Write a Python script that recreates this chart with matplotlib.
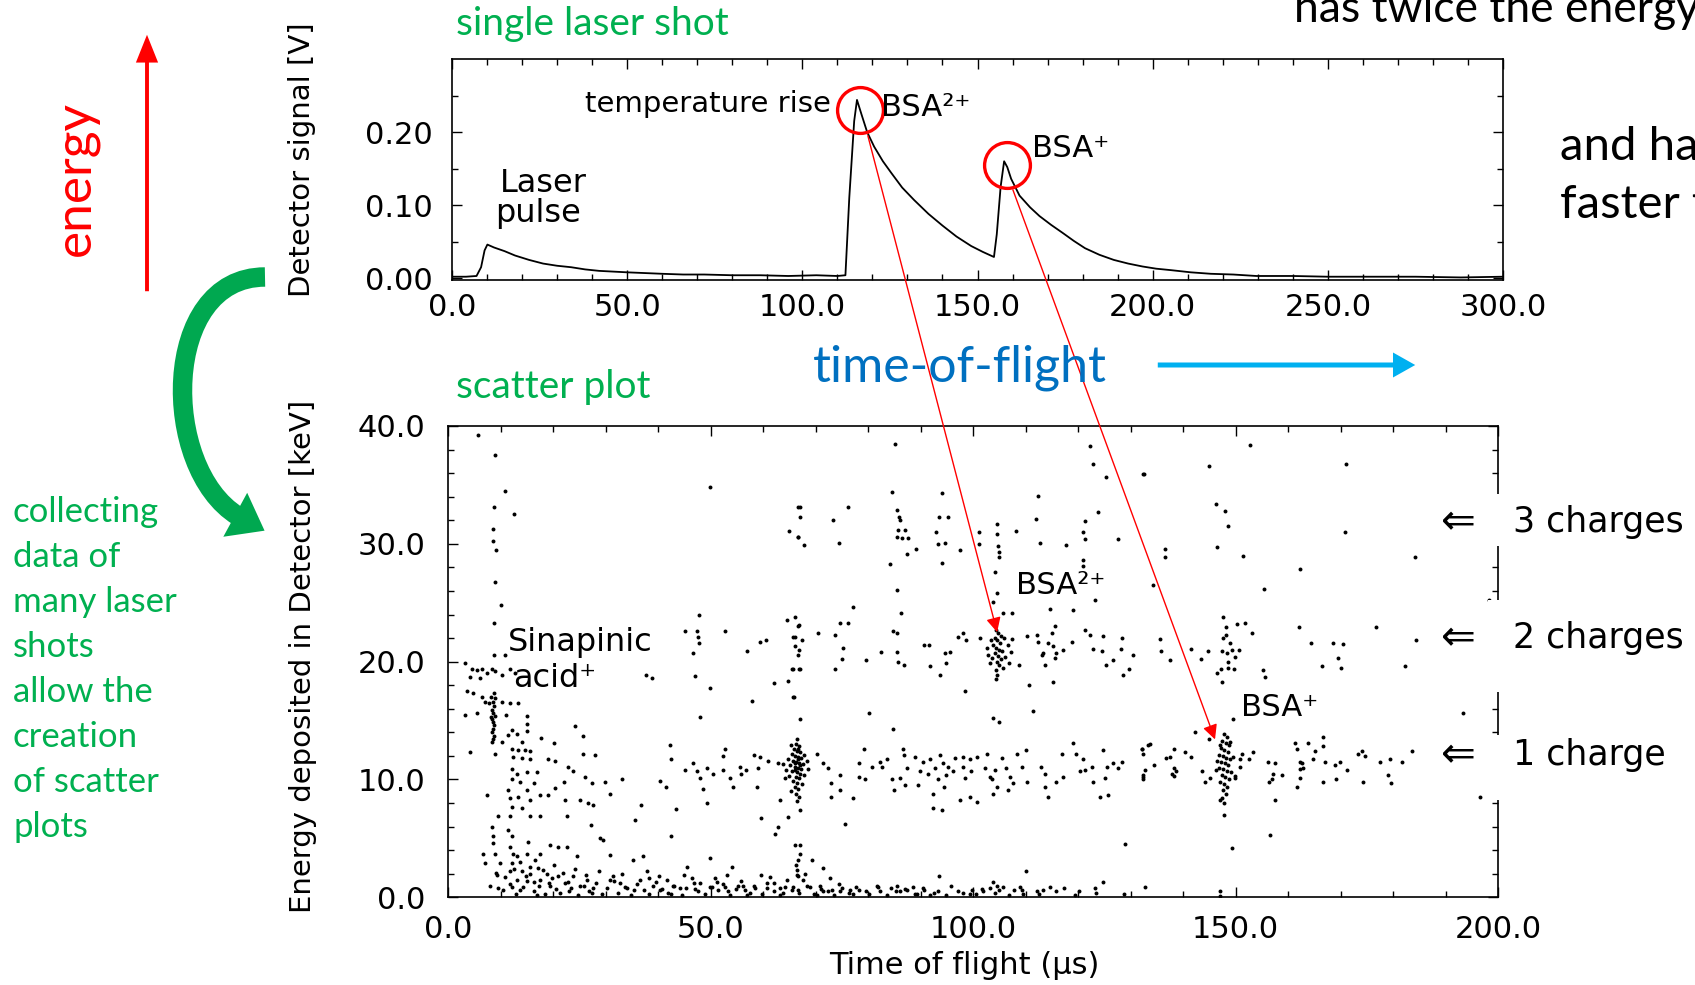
import numpy as np
import matplotlib
matplotlib.use("Agg")
import matplotlib.pyplot as plt
from matplotlib.patches import FancyArrowPatch, ConnectionPatch, Rectangle, ArrowStyle, PathPatch
from matplotlib.path import Path
from matplotlib.ticker import MultipleLocator, FixedLocator, FormatStrFormatter

W, H = 1695, 985

# ---- single laser shot trace (time in us, signal in V)
trace = [(0, 0.002), (4, 0.002), (7, 0.003), (8.3, 0.015), (9.3, 0.038), (10.1, 0.046),
         (12, 0.042), (15, 0.037), (18, 0.031), (22, 0.025), (26, 0.020), (30, 0.017),
         (34, 0.015), (38, 0.012), (42, 0.010), (46, 0.009), (50, 0.008), (55, 0.007),
         (60, 0.006), (66, 0.005), (72, 0.005), (80, 0.004), (88, 0.004), (96, 0.003),
         (104, 0.004), (110, 0.003), (112.3, 0.004), (113.4, 0.11), (114.8, 0.215),
         (115.6, 0.244), (116.9, 0.224), (118.5, 0.200), (120.5, 0.180), (123, 0.160),
         (125.4, 0.144), (128.5, 0.124), (131.9, 0.107), (136, 0.088), (140, 0.072),
         (144, 0.057), (148.2, 0.044), (151.5, 0.036), (154.7, 0.029), (155.5, 0.06),
         (156.6, 0.125), (157.6, 0.160), (158.5, 0.152), (159.6, 0.136), (162, 0.113),
         (165, 0.097), (167.7, 0.085), (171, 0.073), (174.3, 0.062), (177.5, 0.051),
         (180.7, 0.041), (184.8, 0.032), (188.9, 0.025), (193, 0.020), (197.1, 0.016),
         (201, 0.013), (205.2, 0.011), (210.9, 0.008), (216.6, 0.006), (223, 0.005),
         (229.6, 0.003), (240, 0.003), (250, 0.002), (262, 0.002), (275, 0.002),
         (288, 0.001), (300, 0.002)]
peak_circles = [(116.4, 0.230), (158.4, 0.155)]

# ---- scatter plot (time of flight in us, energy in keV)
high_pts = [(5.8, 39.2), (9.0, 37.5), (10.9, 34.5), (8.8, 33.1), (12.6, 32.5), (8.5, 31.3),
            (8.6, 30.2), (9.1, 29.5), (9.0, 26.8), (10.1, 24.8), (8.8, 23.3), (8.8, 20.6),
            (10.9, 20.6), (49.9, 34.8), (66.7, 33.1), (65.0, 31.1), (66.7, 30.6),
            (85.1, 38.5), (84.5, 34.4), (85.6, 32.9), (85.9, 32.3), (86.1, 32.0), (85.8, 31.2),
            (87.1, 31.2), (85.6, 30.6), (86.4, 30.5), (87.7, 30.5), (87.4, 29.1), (89.1, 29.6),
            (84.2, 28.3), (67.0, 33.1), (67.0, 32.3), (66.7, 30.6), (67.8, 29.9), (73.4, 32.0),
            (76.1, 33.1), (74.5, 30.1), (94.0, 34.3), (93.6, 32.3), (95.3, 32.3), (93.0, 31.0),
            (93.4, 30.0), (94.7, 30.1), (94.0, 28.4), (97.5, 29.5), (101.1, 31.0), (101.1, 30.0),
            (104.5, 31.7), (104.6, 30.8), (104.8, 29.8), (105.0, 29.3), (105.0, 28.9),
            (104.1, 27.6), (104.5, 25.8), (103.9, 25.1), (105.8, 24.1), (107.4, 24.1),
            (112.3, 34.1), (112.0, 32.1), (112.8, 30.1), (108.2, 31.1), (117.8, 29.9),
            (122.2, 38.3), (122.9, 36.8), (125.4, 35.7), (123.9, 32.7), (121.3, 31.9),
            (121.0, 31.0), (121.3, 30.4), (121.0, 28.6), (121.0, 28.1), (127.7, 30.4),
            (132.3, 35.9), (85.6, 26.1), (86.3, 24.1), (77.2, 24.6), (123.2, 25.2),
            (152.8, 38.4), (145.0, 36.6), (132.5, 35.9), (171.1, 36.8), (146.3, 33.4),
            (148.0, 32.8), (148.5, 31.5), (170.8, 31.0), (136.6, 29.6), (136.6, 28.9),
            (146.4, 29.7), (151.5, 29.0), (184.2, 28.9), (162.3, 27.9), (134.2, 26.5),
            (155.5, 26.2), (198.2, 25.2)]

band2_pts = [(47.9, 24.0), (45.1, 22.6), (47.4, 22.6), (47.7, 22.1), (47.9, 21.6), (46.7, 20.7),
             (52.8, 22.6), (56.9, 20.9), (59.4, 21.7), (60.6, 21.8), (47.0, 18.8), (37.8, 18.9),
             (38.9, 18.6), (49.9, 17.8), (62.0, 18.2), (57.9, 16.7), (48.0, 15.3), (64.5, 23.5),
             (65.8, 22.1), (66.7, 23.0), (66.1, 21.3), (65.5, 19.4), (66.9, 19.4), (64.8, 18.4),
             (65.8, 17.0), (66.1, 23.8), (66.9, 23.1), (66.1, 22.1), (67.4, 21.8), (66.9, 21.0),
             (66.6, 20.6), (65.8, 19.4), (67.0, 19.4), (70.4, 22.4), (73.7, 22.3), (74.6, 23.3),
             (76.1, 23.3), (75.3, 21.2), (75.0, 20.2), (73.7, 19.4), (79.6, 20.1), (82.4, 20.8),
             (84.8, 22.6), (85.5, 22.4), (85.6, 20.8), (85.8, 20.0), (86.9, 19.7), (90.6, 21.4),
             (91.6, 21.4), (91.9, 19.6), (93.8, 18.9), (94.8, 19.9), (95.6, 20.8), (97.2, 22.1),
             (98.1, 22.4), (98.7, 21.8), (101.4, 22.0), (110.2, 22.2), (112.4, 21.7),
             (113.4, 20.7), (114.3, 21.6), (115.0, 22.4), (115.6, 23.0), (115.3, 21.3),
             (115.9, 20.7), (115.6, 20.3), (117.2, 21.0), (118.8, 21.7), (114.7, 24.5),
             (119.1, 24.4), (112.1, 22.3), (113.7, 19.7), (113.1, 20.6), (121.3, 22.7),
             (122.3, 22.3), (122.9, 21.1), (124.5, 20.9), (124.8, 22.2), (126.7, 20.1),
             (128.3, 22.0), (128.2, 21.1), (128.6, 18.9), (129.8, 19.4), (130.5, 20.6),
             (125.3, 19.7), (108.8, 19.7), (94.7, 20.7), (65.9, 17.0), (67.0, 15.1),
             (80.2, 15.6), (84.8, 14.3), (98.5, 17.5), (103.9, 15.2), (105.0, 14.9),
             (111.5, 15.8), (110.7, 18.0), (115.3, 18.3), (147.6, 23.8), (148.2, 22.9),
             (150.2, 23.2), (151.8, 23.3), (153.1, 22.4), (147.6, 22.0), (148.2, 22.3),
             (149.0, 21.6), (147.4, 20.9), (148.3, 20.7), (149.3, 21.0), (150.7, 21.0),
             (149.9, 20.4), (148.5, 20.0), (147.3, 19.4), (148.6, 19.5), (149.8, 19.4),
             (146.4, 19.0), (147.4, 18.3), (135.6, 21.9), (135.8, 20.9), (137.6, 20.1),
             (141.6, 21.1), (143.4, 20.2), (144.7, 20.9), (155.2, 19.3), (155.6, 18.7),
             (162.0, 22.9), (164.3, 21.6), (168.6, 21.6), (170.5, 21.5), (169.6, 20.3),
             (166.4, 19.6), (170.1, 19.5), (176.8, 22.9), (182.3, 19.6), (184.3, 21.8),
             (193.3, 15.6), (149.6, 15.1)]

sinapinic_pts = [(3.2, 19.9), (4.5, 19.4), (5.5, 19.3), (6.4, 19.4), (7.4, 19.0), (4.2, 18.7),
                 (6.1, 18.6), (8.3, 19.4), (8.9, 19.2), (10.2, 18.9), (11.8, 19.4), (12.8, 19.0),
                 (3.6, 17.5), (4.8, 17.3), (6.4, 17.0), (7.0, 16.6), (7.8, 16.5), (10.2, 16.6),
                 (11.8, 16.5), (13.4, 16.5), (3.2, 15.5), (5.5, 15.6), (11.0, 15.5), (15.0, 15.4),
                 (15.0, 14.7), (12.1, 14.2), (13.1, 13.9), (8.3, 13.2), (10.2, 13.2), (11.5, 13.8),
                 (14.0, 13.2), (15.0, 14.1), (24.2, 14.5), (25.7, 13.7), (8.9, 12.2), (4.2, 12.3),
                 (12.1, 12.6), (13.4, 12.5), (14.7, 12.5), (15.6, 12.4), (17.8, 13.5), (20.1, 13.1),
                 (12.4, 11.9), (14.0, 11.8), (15.6, 11.7), (19.1, 11.7), (20.4, 11.6), (25.8, 12.2),
                 (28.0, 12.1), (22.9, 11.1), (23.9, 10.7), (26.1, 10.2), (12.1, 10.9), (13.1, 10.5),
                 (15.0, 10.6), (16.9, 10.6), (12.1, 10.0), (13.7, 9.8), (16.3, 9.7), (22.0, 9.8),
                 (7.4, 8.7), (11.5, 9.1), (11.8, 8.4), (13.4, 8.5), (15.0, 9.1), (15.6, 8.3),
                 (17.5, 8.7), (19.0, 8.7), (20.4, 9.3), (22.3, 8.3), (25.1, 8.3), (26.7, 8.0),
                 (27.7, 7.8), (29.9, 9.8), (33.1, 10.0), (27.4, 9.7), (30.9, 8.8), (12.1, 7.7),
                 (14.0, 7.6), (15.6, 6.9), (17.5, 6.9), (22.6, 6.9), (9.6, 6.9), (11.8, 6.9),
                 (27.2, 6.1), (35.6, 6.6), (36.7, 7.8),
                 (8.2, 17.0), (8.5, 16.6), (8.7, 16.2), (8.4, 15.9), (8.6, 15.6), (8.9, 15.4),
                 (8.3, 15.1), (8.6, 14.9), (8.8, 14.6), (8.5, 14.3), (8.4, 14.0), (8.7, 13.7),
                 (9.0, 16.9), (8.2, 15.3), (8.6, 13.4), (8.8, 17.3)]

band1_pts = [(40.4, 9.9), (41.5, 9.4), (42.2, 12.9), (42.4, 11.7), (43.4, 7.5), (42.5, 5.2),
             (46.7, 11.4), (45.1, 10.8), (47.4, 10.7), (48.0, 10.1), (49.3, 11.0), (48.6, 9.2),
             (49.3, 8.0), (52.7, 12.6), (52.4, 12.0), (50.5, 10.5), (52.3, 10.8), (53.7, 10.1),
             (55.6, 11.1), (54.3, 9.4), (58.2, 12.1), (59.4, 11.9), (61.0, 11.6), (56.8, 10.8),
             (55.9, 10.5), (59.1, 11.0), (58.8, 9.4), (62.9, 11.4), (63.2, 8.3), (59.7, 6.7),
             (64.8, 6.8), (62.9, 6.0), (62.3, 5.4), (66.1, 4.4),
             (70.2, 12.2), (71.5, 11.4), (72.4, 11.0), (73.0, 9.7), (74.7, 10.4), (74.6, 9.1),
             (73.0, 8.5), (77.2, 8.4), (78.2, 11.4), (78.2, 10.2), (79.4, 10.0), (79.3, 12.6),
             (80.7, 11.1), (82.3, 11.5), (83.6, 11.7), (82.6, 11.1), (84.5, 10.0), (84.9, 9.1),
             (86.7, 12.6), (86.8, 12.1), (87.4, 11.0), (86.1, 10.1), (87.0, 9.5), (89.0, 11.9),
             (89.9, 10.7), (90.5, 11.5), (91.5, 10.5), (89.6, 9.5), (91.9, 11.7), (92.8, 11.0),
             (93.7, 12.1), (94.3, 11.4), (95.2, 11.1), (94.9, 10.4), (96.2, 10.7), (93.4, 10.0),
             (94.4, 9.4), (92.4, 8.8), (96.5, 11.8), (98.1, 11.9), (98.1, 11.1), (99.4, 11.7),
             (99.7, 10.7), (100.7, 11.9), (98.5, 10.1), (97.5, 8.3), (99.4, 8.5), (100.7, 8.1),
             (102.3, 11.0), (102.6, 12.2), (103.2, 10.2), (103.6, 10.0), (104.2, 10.8),
             (104.5, 9.4), (103.8, 8.8), (105.5, 11.8), (106.3, 11.0), (107.0, 10.2),
             (107.7, 9.7), (108.3, 12.2), (109.3, 11.1), (110.0, 12.5), (110.3, 9.8),
             (106.7, 9.1), (113.0, 11.1), (113.7, 10.5), (113.7, 9.4), (114.3, 8.5),
             (115.9, 9.8), (116.9, 12.2), (117.2, 10.2), (119.1, 13.1), (119.7, 12.2),
             (121.0, 11.7), (120.4, 10.7), (121.3, 10.8), (122.6, 11.1), (122.9, 9.8),
             (124.8, 12.5), (125.5, 11.1), (126.7, 11.4), (127.7, 11.0), (128.3, 11.5),
             (125.1, 10.1), (124.2, 8.5), (125.8, 8.7), (132.1, 12.6), (132.4, 10.2),
             (133.4, 12.9), (132.7, 10.8), (92.4, 7.6), (94.1, 7.4), (75.6, 6.2), (67.0, 7.4),
             (128.9, 4.5),
             (142.2, 14.0), (145.0, 13.4), (133.7, 13.0), (132.1, 12.6), (132.4, 12.2),
             (138.2, 12.6), (140.4, 12.3), (136.8, 11.8), (137.6, 11.9), (141.5, 11.9),
             (134.4, 11.2), (138.2, 11.0), (138.7, 10.7), (137.9, 10.5), (138.2, 10.3),
             (132.4, 10.4), (132.4, 10.0), (143.6, 10.7), (144.2, 9.8), (145.2, 10.1),
             (151.2, 12.2), (150.9, 11.7), (153.4, 12.3), (152.6, 11.7), (150.9, 11.1),
             (149.9, 10.1), (156.2, 11.5), (157.5, 11.4), (157.2, 10.5), (158.8, 10.4),
             (156.9, 10.0), (156.4, 9.8), (157.5, 8.3), (161.4, 13.1), (161.7, 12.6),
             (163.9, 13.1), (166.6, 13.6), (165.2, 12.4), (166.7, 12.8), (162.3, 11.5),
             (162.6, 11.4), (162.9, 11.0), (162.3, 10.9), (164.7, 11.7), (167.1, 11.5),
             (168.9, 11.2), (169.9, 11.5), (171.2, 10.8), (162.2, 10.1), (161.7, 9.4),
             (166.6, 9.8), (169.1, 10.0), (173.4, 12.2), (174.0, 12.4), (174.7, 12.0),
             (177.5, 11.5), (179.4, 11.7), (181.7, 11.5), (183.6, 12.4), (174.2, 9.8),
             (179.1, 10.4), (179.7, 9.7), (196.6, 8.5), (147.9, 7.0), (156.6, 5.3),
             (149.3, 4.2), (147.0, 8.3)]

bsa1_66 = [(66.5, 13.4), (66.2, 13.0), (66.8, 12.8), (65.9, 12.6), (66.4, 12.4), (67.1, 12.3),
           (65.5, 12.2), (66.0, 12.0), (66.6, 11.9), (67.3, 11.8), (64.8, 11.7), (65.7, 11.6),
           (66.3, 11.5), (66.9, 11.4), (67.6, 11.3), (65.2, 11.2), (66.1, 11.1), (66.7, 11.0),
           (67.2, 10.9), (64.4, 10.8), (65.6, 10.7), (66.4, 10.6), (67.0, 10.5), (67.9, 10.4),
           (65.0, 10.3), (66.2, 10.2), (66.8, 10.1), (65.8, 9.9), (66.5, 9.7), (67.4, 9.6),
           (66.0, 9.4), (66.7, 9.2), (65.4, 9.0), (66.3, 8.8), (66.9, 8.5), (66.4, 8.2),
           (68.3, 11.6), (68.6, 10.9), (63.9, 11.3), (64.2, 10.1), (67.8, 12.1), (65.3, 12.9),
           (66.6, 12.6), (66.1, 10.8), (66.6, 11.7), (66.0, 11.4), (67.0, 11.2)]

bsa2_105 = [(104.3, 22.7), (104.8, 22.4), (105.3, 22.2), (104.1, 22.0), (104.6, 21.8),
            (105.1, 21.6), (103.8, 21.4), (104.4, 21.2), (105.0, 21.0), (105.6, 20.9),
            (104.2, 20.7), (104.8, 20.5), (103.6, 20.3), (105.3, 20.2), (104.5, 20.0),
            (106.1, 20.4), (103.2, 19.9), (104.9, 19.7), (105.8, 19.5), (104.3, 19.3),
            (104.6, 18.9), (104.4, 18.5), (106.6, 21.4), (107.2, 20.8), (102.8, 20.6),
            (106.8, 19.9), (103.4, 21.8), (105.9, 22.0), (107.5, 21.9), (102.6, 21.2)]

bsa1_148 = [(147.9, 13.9), (148.3, 13.6), (147.5, 13.3), (148.1, 13.1), (148.7, 12.9),
            (147.2, 12.7), (147.9, 12.5), (148.5, 12.3), (146.8, 12.1), (147.6, 12.0),
            (148.2, 11.8), (148.9, 11.7), (147.3, 11.5), (148.0, 11.4), (148.6, 11.2),
            (146.9, 11.0), (147.7, 10.9), (148.3, 10.7), (149.2, 10.6), (147.4, 10.4),
            (148.0, 10.2), (148.7, 10.0), (147.1, 9.8), (147.8, 9.6), (148.4, 9.4),
            (147.6, 9.1), (148.1, 8.8), (147.5, 8.4), (147.8, 8.0), (146.5, 11.6),
            (149.5, 11.9), (146.2, 10.8), (149.9, 10.3), (147.0, 12.9), (148.9, 13.2)]

low_pts = [(8.3, 6.0), (8.6, 5.2), (6.7, 3.7), (7.0, 2.9), (8.6, 4.6), (8.9, 3.7), (9.9, 2.9),
           (9.3, 1.9), (8.0, 1.0), (9.6, 0.8), (11.5, 5.7), (12.1, 5.2), (11.8, 4.3), (12.4, 3.7),
           (13.1, 3.5), (12.1, 2.9), (13.7, 3.0), (11.8, 2.2), (14.0, 2.2), (13.1, 1.5),
           (12.1, 0.9), (13.7, 0.6), (15.3, 4.7), (15.0, 3.7), (16.6, 3.2), (15.6, 2.6),
           (17.5, 3.7), (17.2, 2.5), (19.4, 4.4), (20.1, 2.7), (18.8, 2.0), (15.6, 2.0),
           (16.3, 1.3), (17.5, 1.5), (19.4, 1.0), (21.0, 1.8), (22.3, 1.2), (23.9, 1.8),
           (24.5, 3.5), (21.0, 4.3), (22.6, 4.3), (25.1, 1.0), (26.4, 1.5), (27.7, 0.8),
           (29.0, 5.0), (29.6, 4.9), (30.9, 3.6), (31.5, 1.8), (32.8, 1.2), (34.0, 0.8),
           (35.3, 3.2), (37.2, 3.5), (36.6, 1.5), (38.2, 1.6), (39.1, 1.0), (40.4, 0.6),
           (41.7, 1.5), (42.9, 1.0), (44.2, 0.8), (45.5, 2.6), (46.4, 1.6), (48.0, 1.2),
           (49.9, 3.3), (49.9, 0.9), (51.2, 1.3), (52.8, 0.9), (53.1, 1.9), (54.0, 2.6),
           (55.3, 1.0), (56.6, 0.6), (58.2, 1.0), (59.7, 1.9), (60.7, 0.8), (62.0, 1.2),
           (63.2, 0.8), (64.5, 1.5), (65.8, 0.9), (66.7, 1.8), (66.7, 3.2), (66.4, 2.3),
           (67.0, 4.4), (67.0, 3.7), (69.3, 3.2), (66.3, 2.7), (71.4, 2.5), (72.8, 1.6),
           (66.4, 1.9), (67.7, 1.5), (69.0, 0.9), (66.7, 0.6), (70.9, 1.0), (71.5, 0.5),
           (73.1, 0.6), (74.7, 0.5), (76.6, 0.6), (77.2, 0.3), (79.7, 0.5), (81.7, 1.0),
           (82.3, 0.5), (85.5, 1.0), (86.1, 0.5), (87.4, 0.6), (88.6, 0.9), (89.3, 0.3),
           (90.5, 0.8), (93.6, 1.8), (93.4, 0.5), (98.1, 0.4), (99.9, 0.6), (101.9, 0.5),
           (103.9, 1.3), (104.5, 1.0), (105.0, 0.6), (103.2, 0.8), (105.8, 0.9), (108.9, 0.9),
           (109.6, 0.3), (110.1, 2.2), (112.1, 0.5), (113.4, 0.6), (114.7, 0.9), (120.1, 0.5),
           (123.2, 0.8), (124.8, 1.3), (132.8, 0.9), (147.0, 0.5), (147.1, 0.1)]

floor_pts = [(10.5, 0.6), (11.8, 1.1), (13.0, 0.3), (14.2, 0.9), (15.1, 1.4), (16.4, 0.5),
             (17.3, 1.0), (18.5, 0.3), (19.2, 1.2), (20.6, 0.7), (21.4, 0.4), (22.8, 1.3),
             (23.5, 0.8), (24.7, 0.2), (25.9, 1.0), (26.8, 0.5), (28.1, 1.2), (29.3, 0.3),
             (30.2, 0.8), (31.6, 1.4), (32.4, 0.4), (33.7, 0.9), (34.9, 0.2), (36.0, 1.1),
             (37.4, 0.6), (38.3, 0.3), (39.6, 1.3), (40.8, 0.7), (41.9, 0.4), (43.1, 1.0),
             (44.5, 0.2), (45.3, 0.8), (46.8, 1.2), (47.6, 0.5), (48.9, 0.3), (50.3, 0.9),
             (51.5, 0.6), (52.4, 1.1), (53.8, 0.2), (54.9, 0.7), (56.2, 1.0), (57.5, 0.4),
             (58.4, 0.8), (59.8, 0.3), (60.7, 1.2), (62.1, 0.5), (63.3, 0.2), (64.2, 0.9),
             (65.6, 0.6), (66.9, 0.4), (68.4, 1.0), (69.7, 0.3), (71.0, 0.7), (72.3, 0.5),
             (73.6, 0.2), (75.0, 0.8), (76.4, 0.4), (78.2, 0.6), (80.1, 0.3), (81.9, 0.9),
             (83.6, 0.2), (85.3, 0.5), (87.0, 0.7), (88.9, 0.3), (90.7, 0.6), (92.6, 0.4),
             (94.8, 0.2), (97.1, 0.5), (99.5, 0.3), (101.8, 0.7), (104.2, 0.4), (106.9, 0.2),
             (109.3, 0.6), (112.6, 0.3), (115.8, 0.5), (119.5, 0.2), (123.4, 0.4), (128.7, 0.3),
             (9.2, 2.1), (10.8, 1.7), (12.6, 2.4), (14.8, 1.8), (16.9, 0.2), (18.0, 2.3),
             (19.8, 1.6), (21.9, 2.1), (23.1, 0.5), (24.2, 2.4), (26.3, 1.9), (27.4, 0.4),
             (28.7, 2.2), (30.8, 1.5), (33.2, 2.0), (35.5, 0.6), (37.9, 2.2), (40.1, 1.8),
             (42.4, 0.3), (44.9, 1.9), (47.1, 0.7), (50.8, 1.6), (53.3, 0.5), (55.8, 1.4),
             (57.0, 0.2), (61.4, 1.7), (63.8, 0.4), (68.0, 2.0), (70.3, 0.2), (74.4, 1.1),
             (77.8, 0.9), (84.4, 0.8), (91.8, 0.2), (95.9, 1.0), (100.6, 0.3), (107.8, 0.6),
             (117.3, 0.8)]

charge_labels = ["3 charges", "2 charges", "1 charge"]


def fig_xy(px, py):
    # pixel position in the 1695x985 frame -> figure fraction
    return px / W, 1 - py / H


def style_axes(ax):
    for s in ax.spines.values():
        s.set_linewidth(1.2)
    ax.tick_params(which="both", direction="in", top=True, right=True, width=1.0,
                   labelsize=22, colors="black")
    ax.tick_params(which="major", length=7)
    ax.tick_params(which="minor", length=4)


plt.rcParams["font.family"] = ["DejaVu Sans"]
fig = plt.figure(figsize=(W / 100, H / 100), dpi=100)
ACC = "Lato"
GREEN = "#00B050"

# ---------------- top panel
ax1 = fig.add_axes([452 / W, 1 - 280 / H, (1503 - 452) / W, (280 - 59) / H])
tr = np.array(trace)
ax1.plot(tr[:, 0], tr[:, 1], color="black", lw=1.3)
ax1.set_xlim(0, 300)
ax1.set_ylim(-0.0025, 0.30)
ax1.xaxis.set_major_locator(MultipleLocator(50))
ax1.xaxis.set_minor_locator(MultipleLocator(10))
ax1.xaxis.set_major_formatter(FormatStrFormatter("%.1f"))
ax1.yaxis.set_major_locator(FixedLocator([0.0, 0.1, 0.2]))
ax1.yaxis.set_minor_locator(FixedLocator([0.05, 0.15, 0.25]))
ax1.yaxis.set_major_formatter(FormatStrFormatter("%.2f"))
style_axes(ax1)
ax1.tick_params(axis="x", pad=9)
ax1.tick_params(axis="y", pad=14)
ax1.set_ylabel("Detector signal [V]", fontsize=21)
ax1.yaxis.set_label_coords(-0.129, 0.545)
ax1.text(38.0, 0.239, "temperature rise", fontsize=21, va="center")
ax1.text(122.4, 0.233, "BSA²⁺", fontsize=22, va="center")
ax1.text(165.5, 0.177, "BSA⁺", fontsize=22, va="center")
ax1.text(26.0, 0.129, "Laser", fontsize=23, ha="center", va="center")
ax1.text(24.5, 0.089, "pulse", fontsize=23, ha="center", va="center")
pc = np.array(peak_circles)
ax1.plot(pc[:, 0], pc[:, 1], "o", ms=33, mfc="none", mec="red", mew=2.4, clip_on=False)

# ---------------- scatter panel
ax2 = fig.add_axes([448 / W, 1 - 897.3 / H, (1498 - 448) / W, (897.3 - 426) / H])
for grp in [high_pts, band2_pts, sinapinic_pts, band1_pts, bsa1_66, bsa2_105, bsa1_148,
            low_pts, floor_pts]:
    g = np.array(grp)
    ax2.scatter(g[:, 0], g[:, 1], s=8, color="black", linewidths=0)
ax2.set_xlim(0, 200)
ax2.set_ylim(0, 40)
ax2.xaxis.set_major_locator(MultipleLocator(50))
ax2.xaxis.set_minor_locator(MultipleLocator(10))
ax2.yaxis.set_major_locator(MultipleLocator(10))
ax2.yaxis.set_minor_locator(MultipleLocator(2))
ax2.xaxis.set_major_formatter(FormatStrFormatter("%.1f"))
ax2.yaxis.set_major_formatter(FormatStrFormatter("%.1f"))
style_axes(ax2)
ax2.tick_params(axis="x", pad=13)
ax2.tick_params(axis="y", pad=16)
ax2.set_ylabel("Energy deposited in Detector [keV]", fontsize=21)
ax2.yaxis.set_label_coords(-0.125, 0.51)
ax2.set_xlabel("Time of flight (µs)", fontsize=22)
ax2.xaxis.set_label_coords(0.492, -0.113)
ax2.text(11.4, 21.6, "Sinapinic", fontsize=23, va="center")
ax2.text(12.4, 18.6, "acid⁺", fontsize=23, va="center")
ax2.text(108.2, 26.5, "BSA²⁺", fontsize=22, va="center")
ax2.text(151.0, 16.1, "BSA⁺", fontsize=22, va="center")

# red arrows from the single shot peaks to the scatter clusters
for a, b in [((118.7, 0.195), (104.6, 22.5)), ((160.1, 0.121), (146.1, 13.4))]:
    con = ConnectionPatch(xyA=a, coordsA=ax1.transData, xyB=b, coordsB=ax2.transData,
                          arrowstyle="-|>", color="red", lw=1.0, mutation_scale=22)
    fig.add_artist(con)

# gaps in the right spine with the charge labels
for (y0, y1), lab, ly in zip([(494, 546), (600, 692), (735, 800)], charge_labels, [522, 638, 755]):
    fig.add_artist(Rectangle(fig_xy(1488, y1), 200 / W, (y1 - y0) / H, transform=fig.transFigure,
                             facecolor="white", edgecolor="none", zorder=5))
    fig.text(*fig_xy(1458, ly), "⇐", fontsize=30, ha="center", va="center", zorder=6)
    fig.text(*fig_xy(1513, ly), lab, fontsize=25, ha="left", va="center", zorder=6)

# ---------------- slide annotations
fig.text(*fig_xy(456, 24), "single laser shot", fontsize=28, color=GREEN, family=ACC,
         va="center")
fig.text(*fig_xy(456, 387), "scatter plot", fontsize=28, color=GREEN, family=ACC,
         va="center")
fig.text(*fig_xy(813, 368), "time-of-flight", fontsize=36, color="#0070C0", family=ACC,
         va="center")
fig.add_artist(FancyArrowPatch(fig_xy(1155, 365), fig_xy(1418, 365), transform=fig.transFigure,
                               arrowstyle=ArrowStyle.Simple(head_length=16, head_width=18,
                                                            tail_width=3.6),
                               color="#00B0F0", mutation_scale=1, lw=0))
fig.text(*fig_xy(1294, 22), "has twice the energy", fontsize=32, family=ACC, va="baseline")
fig.text(*fig_xy(1560, 147), "and has", fontsize=34, family=ACC, va="center")
fig.text(*fig_xy(1560, 205), "faster than", fontsize=34, family=ACC, va="center")

fig.text(*fig_xy(76, 178), "energy", fontsize=37, color="red", family=ACC, rotation=90,
         ha="center", va="center")
fig.add_artist(FancyArrowPatch(fig_xy(147, 294), fig_xy(147, 32), transform=fig.transFigure,
                               arrowstyle=ArrowStyle.Simple(head_length=20, head_width=16,
                                                            tail_width=2.8),
                               color="red", mutation_scale=1, lw=0))

# curved green arrow: thick bezier body plus a head
body = [fig_xy(265, 277), fig_xy(160, 277), fig_xy(160, 468), fig_xy(238, 516)]
fig.add_artist(PathPatch(Path(body, [Path.MOVETO, Path.CURVE4, Path.CURVE4, Path.CURVE4]),
                         transform=fig.transFigure, facecolor="none", edgecolor="#00A850",
                         lw=14, capstyle="butt"))
fig.add_artist(FancyArrowPatch(fig_xy(232, 513), fig_xy(267, 532), transform=fig.transFigure,
                               arrowstyle=ArrowStyle.Simple(head_length=24, head_width=36,
                                                            tail_width=10),
                               color="#00A850", mutation_scale=1, lw=0))

green_lines = ["collecting", "data of", "many laser", "shots", "allow the", "creation",
               "of scatter", "plots"]
for i, line in enumerate(green_lines):
    fig.text(*fig_xy(13, 512 + 45 * i), line, fontsize=25, color=GREEN, family=ACC,
             va="center")

fig.savefig("out.png", dpi=100)
